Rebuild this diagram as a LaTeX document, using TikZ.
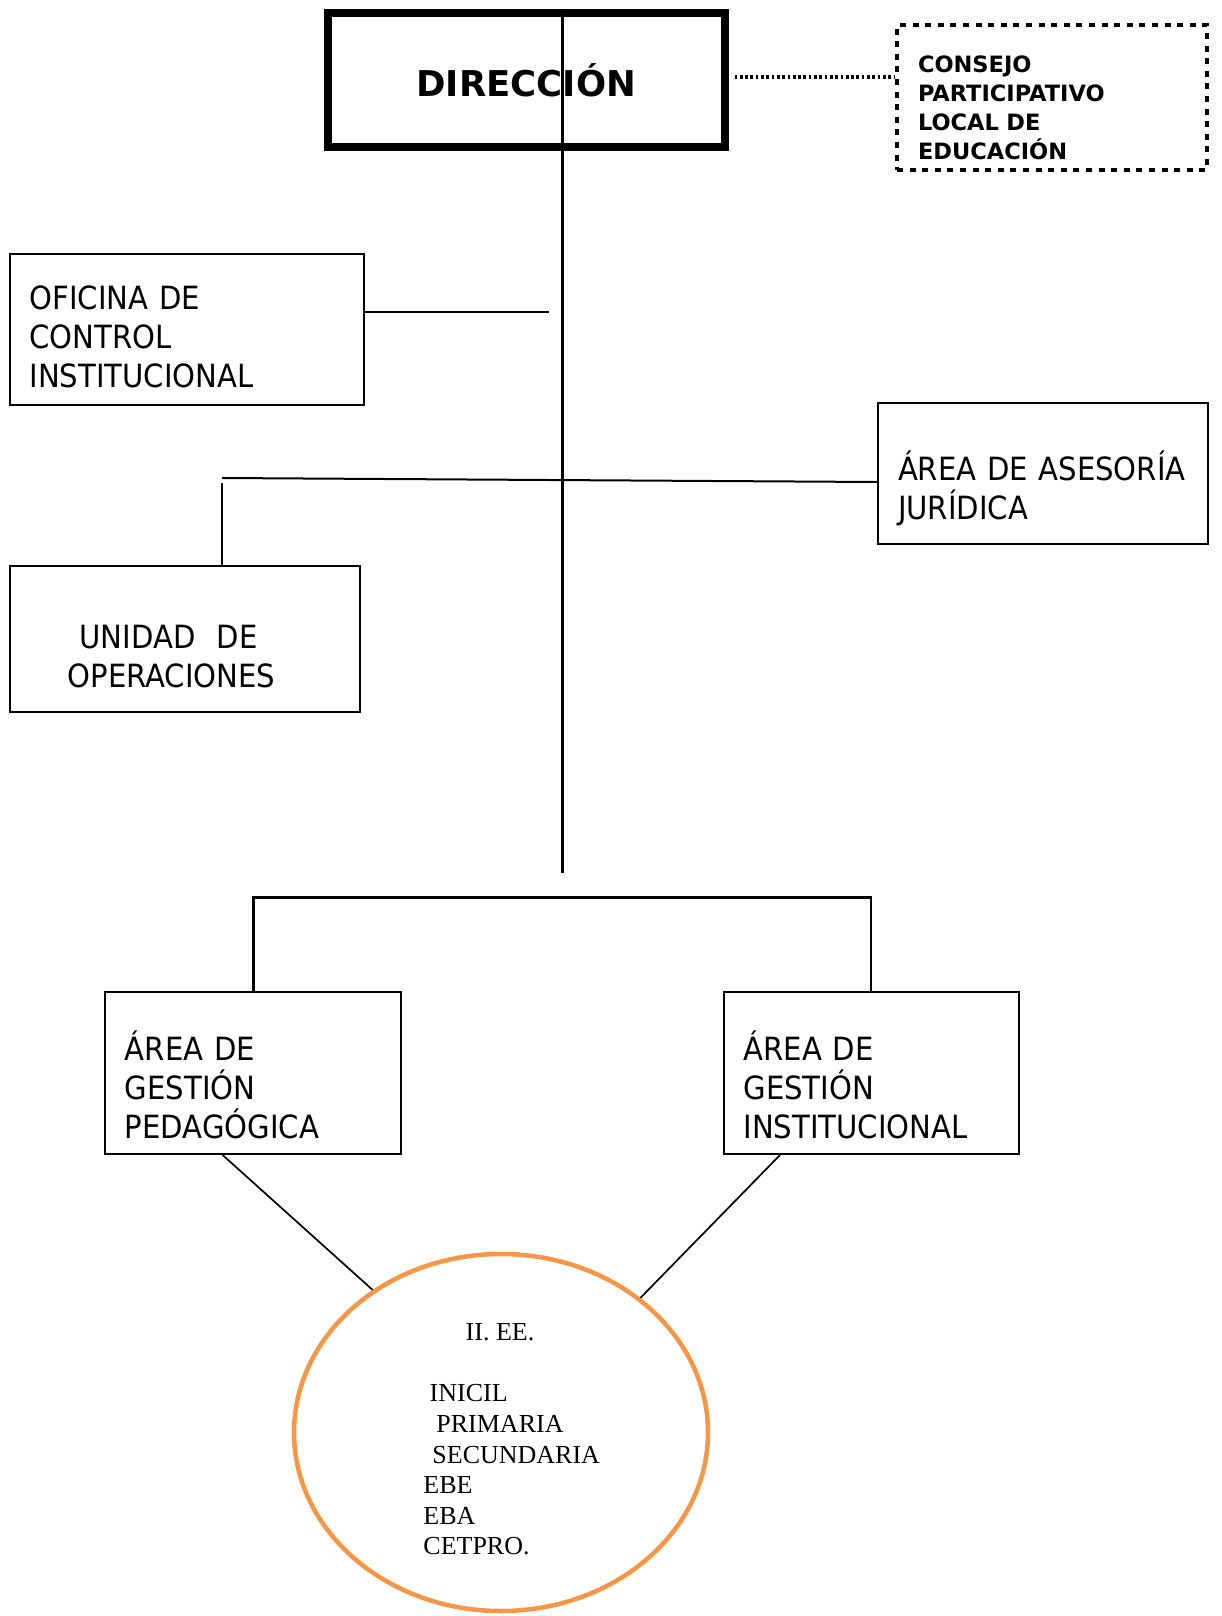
\documentclass[tikz,border=0pt]{standalone}
\usepackage{fontspec}
\setmainfont[FakeStretch=0.91]{DejaVu Sans}
\newfontfamily\headfont{DejaVu Sans}
\newfontfamily\listfont{Liberation Serif}
\usepackage{tikz}
\usetikzlibrary{shapes.geometric}
\definecolor{iecolor}{HTML}{F79646}
\newcommand{\padtop}[1]{\rule{0pt}{#1}}

\begin{document}
\begin{tikzpicture}[x=1pt,y=-1pt]
\tikzset{unit/.style = {shape=rectangle,draw,line width=2pt,align=left,inner xsep=20pt,inner ysep=0pt,font=\fontsize{32}{39}\selectfont}}
\tikzset{edge/.style = {line width=2pt}}
\tikzset{dotline/.style = {line width=4pt,dash pattern=on 2.7pt off 2.6pt}}
\useasboundingbox (0,0) rectangle (1221,1616);
%\draw[red] (0,0) rectangle (1221,1616);
\node[draw,line width=8pt,minimum width=396.5pt,minimum height=134pt,font=\headfont\bfseries\fontsize{35.5}{40}\selectfont] (dir) at (526.25,80) {DIRECCIÓN};
\node[draw,line width=4.3pt,dash pattern=on 6pt off 6.6pt,align=left,text width=268pt,inner xsep=21pt,minimum height=145pt,font=\headfont\bfseries\fontsize{22.5}{29}\selectfont] (cons) at (1052,97.5) {\padtop{38pt}CONSEJO\\PARTICIPATIVO\\LOCAL~DE\\EDUCACIÓN};
\node[unit,text width=314.4pt,minimum height=151pt] (ofi) at (186.8,329.5) {\padtop{38pt}OFICINA~DE\\CONTROL\\INSTITUCIONAL};
\node[unit,text width=290pt,minimum height=141pt] (ase) at (1043,473.5) {\padtop{60pt}ÁREA~DE~ASESORÍA\\JURÍDICA};
\node[unit,text width=310.4pt,minimum height=146pt] (ops) at (184.8,639) {\padtop{58pt}\hspace*{50pt}UNIDAD~~DE\\\hspace*{38pt}OPERACIONES};
\node[unit,text width=256.5pt,minimum height=162pt] (ped) at (253.2,1073) {\padtop{53pt}ÁREA~DE\\GESTIÓN\\PEDAGÓGICA};
\node[unit,text width=255pt,minimum height=162pt] (ins) at (871,1073) {\padtop{53pt}ÁREA~DE\\GESTIÓN\\INSTITUCIONAL};
\node[ellipse,draw=iecolor,line width=4.5pt,minimum width=414pt,minimum height=357pt,align=left,inner sep=0pt,font=\listfont\fontsize{26}{30.6}\selectfont] (ie) at (501,1432.5)
 {\padtop{31pt}\hspace*{63.7pt}II. EE.\\[30.6pt]
  \hspace*{27.7pt}INICIL\\
  \hspace*{34.4pt}PRIMARIA\\
  \hspace*{30.4pt}SECUNDARIA\\
  \hspace*{21.4pt}EBE\\
  \hspace*{21.4pt}EBA\\
  \hspace*{21.4pt}CETPRO.};
\coordinate (trunkend) at (562.6,873);
\coordinate (bar) at (562.6,897.5);
\coordinate (ofiend) at (549,312);
\coordinate (opsjoint) at (222,478);
\coordinate (opstop) at (222,483);
\draw[line width=2.4pt] (dir.north -| trunkend) -- (trunkend);
\draw[dotline] ([xshift=6pt,yshift=3pt]dir.east) -- ([yshift=3pt]dir.east -| cons.west);
\draw[edge] (ofi.east |- ofiend) -- (ofiend);
\draw[edge] (opsjoint) -- ([yshift=-8.5pt]ase.west);
\draw[edge] (opstop) -- (opstop |- ops.north);
\draw[line width=2.6pt] (ped.north) -- (ped.north |- bar) -- (ins.north |- bar) -- (ins.north);
\draw[line width=1.7pt] ([xshift=-30.6pt]ped.south) -- (ie.132);
\draw[line width=1.7pt] ([xshift=-91pt]ins.south) -- (ie.44);
\end{tikzpicture}
\end{document}
